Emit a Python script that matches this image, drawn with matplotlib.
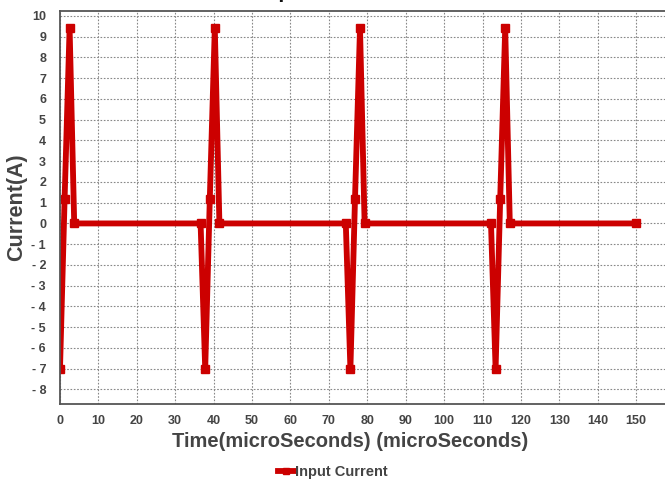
import matplotlib
matplotlib.use("Agg")
import matplotlib.pyplot as plt

time_us = [0, 1.2, 2.5, 3.7, 36.6, 37.8, 39.0, 40.3, 41.5,
           74.4, 75.6, 76.8, 78.1, 79.3, 112.2, 113.4, 114.6, 115.9, 117.1, 150]
current_a = [-7, 1.2, 9.4, 0, 0, -7, 1.2, 9.4, 0,
             0, -7, 1.2, 9.4, 0, 0, -7, 1.2, 9.4, 0, 0]

x_ticks = list(range(0, 151, 10))
y_ticks = list(range(-8, 11))
y_tick_labels = [f"- {abs(v)}" if v < 0 else str(v) for v in y_ticks]

RED = "#cc0000"
TXT = "#444444"

plt.rcParams["font.family"] = ["Liberation Sans", "DejaVu Sans"]

fig = plt.figure(figsize=(6.65, 4.8), dpi=100)
ax = fig.add_axes([60 / 665, 76 / 480, 1 - 60 / 665, (404 - 10.7) / 480])

ax.plot(time_us, current_a, color=RED, linewidth=4.2, marker="s", markersize=5.5,
        label="Input Current", solid_joinstyle="miter")

ax.set_xlim(0, 157.5)
ax.set_ylim(-8.7, 10.25)
ax.set_xticks(x_ticks)
ax.set_yticks(y_ticks)
ax.set_yticklabels(y_tick_labels)
ax.tick_params(length=0, labelsize=9, labelcolor=TXT)
ax.tick_params(axis="x", pad=8)
ax.tick_params(axis="y", pad=10)
for lab in ax.get_xticklabels() + ax.get_yticklabels():
    lab.set_fontweight("bold")

ax.grid(True, color="#888888", linestyle=(0, (1.5, 1.5)), linewidth=0.8)
ax.set_axisbelow(True)
for side in ("left", "bottom", "top"):
    ax.spines[side].set_color("#555555")
    ax.spines[side].set_linewidth(1.3)
ax.spines["right"].set_visible(False)

ax.set_xlabel("Time(microSeconds) (microSeconds)", fontsize=14.5, fontweight="bold",
              color=TXT)
ax.xaxis.set_label_coords((350 - 60) / 605, -0.07)
ax.set_ylabel("Current(A)", fontsize=15.5, fontweight="bold", color=TXT)
ax.yaxis.set_label_coords(-0.054, 0.5)

fig.text(0.49, 1.004, "Input Current", ha="center", va="baseline",
         fontsize=15, fontweight="bold", color="#111111")

leg = fig.legend(loc="lower center", bbox_to_anchor=(0.5, -0.025), frameon=False,
                 prop={"weight": "bold", "size": 10.5}, handlelength=1.1,
                 handletextpad=0.05, markerscale=0.9)
for t in leg.get_texts():
    t.set_color(TXT)

fig.savefig("out.png", dpi=100)
